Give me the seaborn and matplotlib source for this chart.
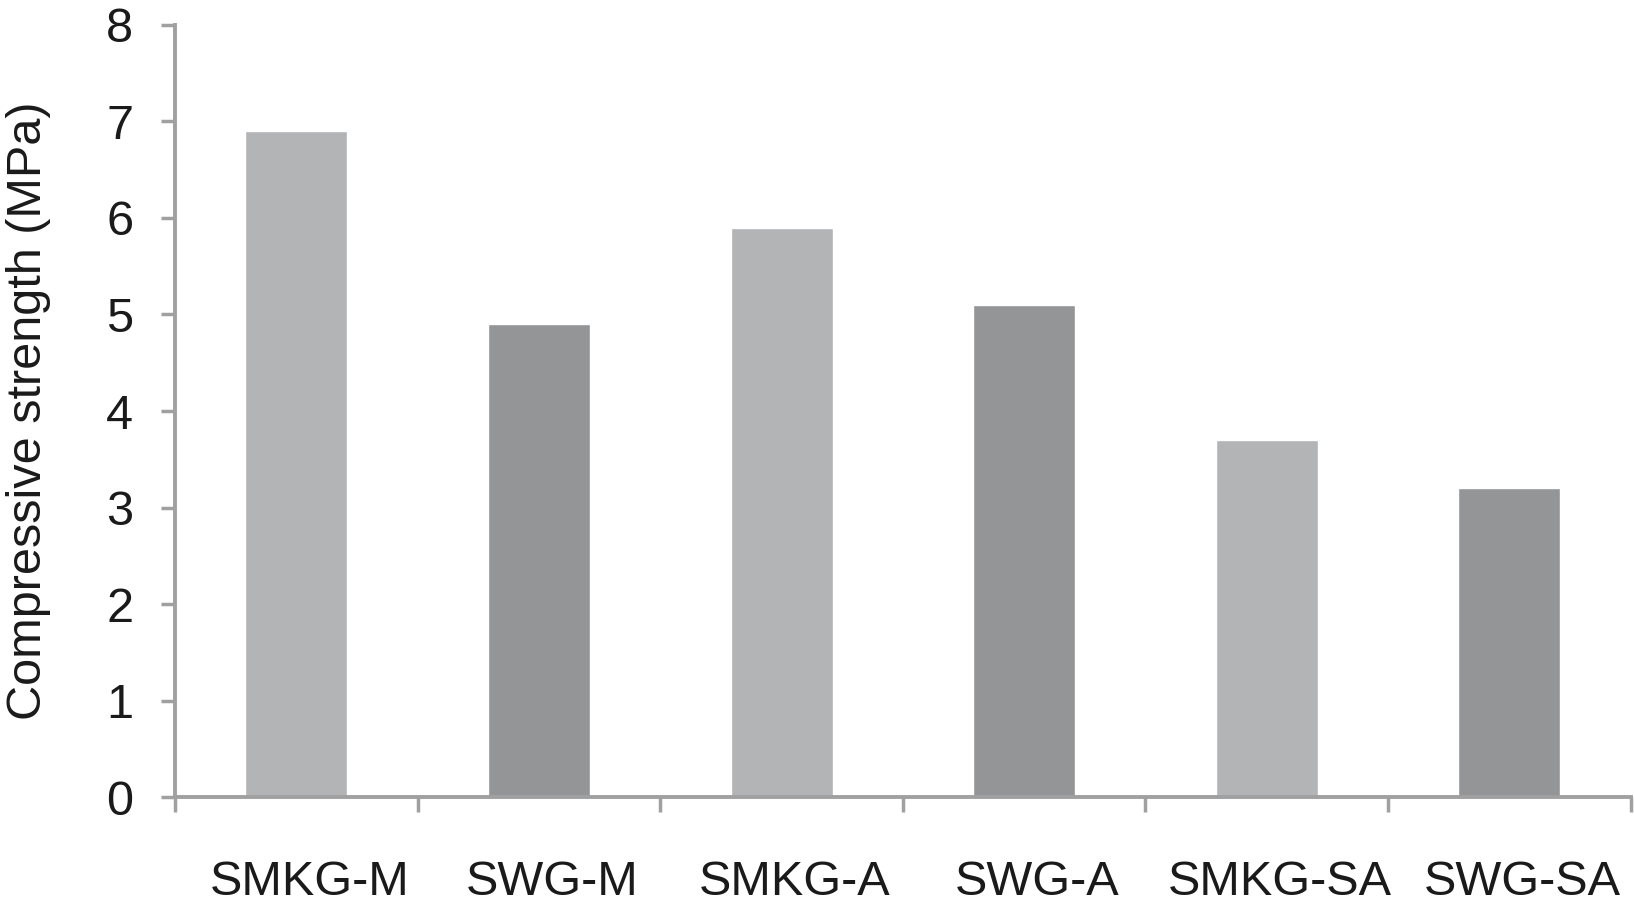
import matplotlib
matplotlib.use("Agg")
import matplotlib.pyplot as plt
import matplotlib.transforms as mtransforms
import seaborn as sns
import pandas as pd

# ------------------------
# Data
# ------------------------
mixes = ["SMKG-M", "SWG-M", "SMKG-A", "SWG-A", "SMKG-SA", "SWG-SA"]
strength = [6.9, 4.9, 5.9, 5.1, 3.7, 3.2]
y_ticks = [0, 1, 2, 3, 4, 5, 6, 7, 8]

light = "#b3b4b6"
dark = "#939598"
axis_grey = "#a0a0a0"

df = pd.DataFrame({"Mix": mixes, "Strength": strength})

sns.set_style("white")
plt.rcParams["font.family"] = ["Liberation Sans", "DejaVu Sans"]

fig = plt.figure(figsize=(16.34, 9.05), dpi=100)
ax = fig.add_axes([0.1071, 0.1193, 0.8909, 0.8531])

sns.barplot(
    data=df,
    x="Mix",
    y="Strength",
    hue="Mix",
    palette=[light, dark, light, dark, light, dark],
    width=0.42,
    legend=False,
    ax=ax,
)

ax.set_xlim(-0.5, len(mixes) - 0.5)
ax.set_ylim(0, 8)
ax.set_yticks(y_ticks)
ax.set_xlabel("")
ax.set_ylabel("Compressive strength (MPa)", fontsize=35, labelpad=40, color="#1a1a1a")

# tick marks between categories, labels at centres
ax.set_xticks(range(len(mixes)))
ax.set_xticklabels(mixes)
ax.set_xticks([i - 0.5 for i in range(len(mixes) + 1)], minor=True)
ax.tick_params(axis="x", which="major", length=0, pad=45, labelsize=35, labelcolor="#1a1a1a")
ax.tick_params(axis="x", which="minor", length=11, width=2.5, color=axis_grey, direction="out", bottom=True)
ax.tick_params(axis="y", length=10, width=2.5, color=axis_grey, direction="out", left=True, pad=20,
               labelsize=35, labelcolor="#1a1a1a")

# labels sit a little right of the bar centres in the original
shift = mtransforms.ScaledTranslation(13 / 100, 0, fig.dpi_scale_trans)
for lbl in ax.get_xticklabels():
    lbl.set_transform(lbl.get_transform() + shift)

for side in ["top", "right"]:
    ax.spines[side].set_visible(False)
for side in ["left", "bottom"]:
    ax.spines[side].set_color(axis_grey)
    ax.spines[side].set_linewidth(2.8)

fig.savefig("out.png", dpi=100)
